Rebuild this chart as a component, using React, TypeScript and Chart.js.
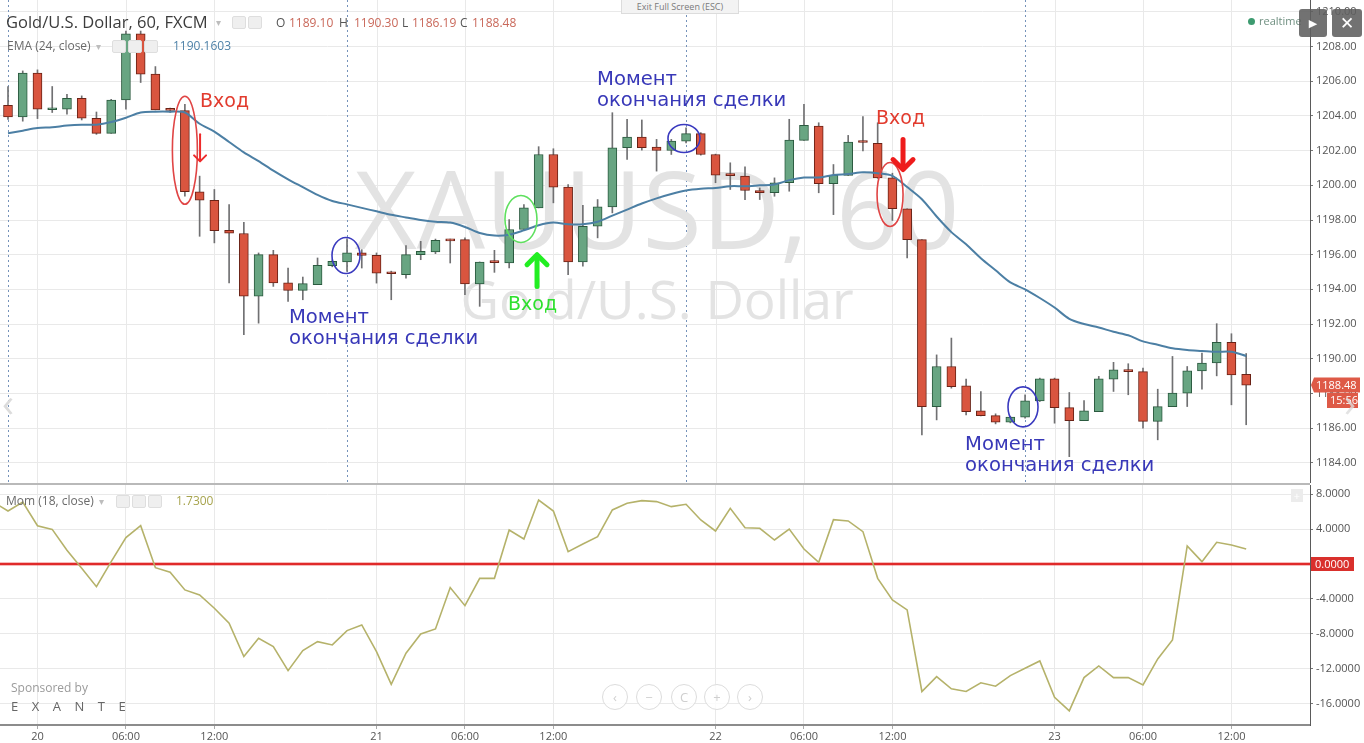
import React, { useEffect, useRef } from 'react';
import { Chart, registerables } from 'chart.js';

Chart.register(...registerables);

// ---------- DATA (hourly candles, index 0 = session start 19th 22:00) ----------
const opens = [
  1204.62, 1203.94, 1206.47, 1204.36, 1204.39, 1205.02, 1203.87, 1203.0, 1204.92, 1208.74,
  1206.41, 1204.38, 1204.31, 1199.63, 1199.14, 1197.41, 1197.22, 1193.6, 1196.0, 1194.37,
  1193.94, 1194.27, 1195.36, 1195.58, 1196.1, 1195.96, 1194.98, 1194.85, 1196.0, 1196.16,
  1196.86, 1196.87, 1194.31, 1195.6, 1195.52, 1197.45, 1198.7, 1201.78, 1199.9, 1195.58,
  1197.64, 1198.76, 1202.17, 1202.78, 1202.21, 1202.01, 1202.55, 1202.98, 1201.78, 1200.62,
  1200.53, 1199.7, 1199.57, 1200.15, 1202.59, 1203.42, 1200.09, 1200.57, 1202.53, 1202.42,
  1200.43, 1198.64, 1196.87, 1187.24, 1189.55, 1188.44, 1186.99, 1186.72, 1186.34, 1186.63,
  1187.57, 1188.84, 1187.18, 1186.43, 1186.95, 1188.82, 1189.36, 1189.25, 1186.38, 1187.24,
  1188.01, 1189.3, 1189.75, 1190.94, 1189.1,
];
const highs = [
  1205.7, 1206.6, 1206.66, 1205.7, 1205.25, 1205.16, 1204.23, 1204.96, 1208.9, 1208.9,
  1206.85, 1204.45, 1204.67, 1200.53, 1199.76, 1198.89, 1197.87, 1196.1, 1196.25, 1195.23,
  1194.71, 1195.81, 1195.7, 1196.91, 1196.29, 1196.1, 1195.05, 1196.52, 1196.77, 1196.9,
  1196.9, 1196.97, 1195.58, 1196.25, 1198.03, 1198.89, 1202.23, 1202.11, 1200.05, 1198.84,
  1199.18, 1204.19, 1203.81, 1203.77, 1202.65, 1202.65, 1203.32, 1203.04, 1201.8, 1201.3,
  1201.07, 1199.85, 1200.43, 1203.81, 1204.67, 1203.61, 1201.2, 1202.88, 1203.96, 1203.61,
  1200.7, 1198.64, 1196.87, 1190.22, 1191.19, 1188.82, 1188.11, 1186.82, 1186.68, 1187.92,
  1188.88, 1188.88, 1188.05, 1187.59, 1188.98, 1189.79, 1189.71, 1189.46, 1188.24, 1190.13,
  1189.55, 1190.33, 1192.02, 1191.44, 1190.3,
];
const lows = [
  1203.8, 1203.7, 1203.85, 1204.2, 1204.1, 1203.77, 1202.94, 1203.0, 1204.39, 1205.93,
  1204.35, 1204.2, 1199.38, 1197.06, 1196.68, 1194.37, 1191.38, 1192.05, 1194.17, 1193.3,
  1193.4, 1194.27, 1195.3, 1195.04, 1195.23, 1194.36, 1193.4, 1194.65, 1195.71, 1196.06,
  1195.52, 1193.69, 1193.02, 1194.98, 1195.23, 1197.45, 1198.7, 1198.99, 1194.85, 1195.33,
  1196.97, 1198.41, 1201.5, 1202.03, 1200.82, 1201.78, 1202.45, 1201.74, 1200.15, 1199.76,
  1199.18, 1199.18, 1199.37, 1199.66, 1202.59, 1199.57, 1198.31, 1200.57, 1201.98, 1200.4,
  1197.97, 1195.81, 1185.6, 1186.47, 1188.3, 1186.76, 1186.7, 1186.24, 1186.3, 1186.57,
  1187.53, 1186.28, 1184.35, 1186.43, 1186.95, 1188.11, 1187.92, 1185.99, 1185.32, 1187.24,
  1187.24, 1188.24, 1189.01, 1187.34, 1186.19,
];
const closes = [
  1203.94, 1206.47, 1204.39, 1204.42, 1205.02, 1203.87, 1203.0, 1204.92, 1208.74, 1206.41,
  1204.35, 1204.32, 1199.63, 1199.14, 1197.39, 1197.24, 1193.6, 1196.0, 1194.37, 1193.94,
  1194.33, 1195.39, 1195.61, 1196.1, 1195.96, 1194.94, 1194.9, 1196.0, 1196.2, 1196.83,
  1196.8, 1194.31, 1195.58, 1195.54, 1197.45, 1198.7, 1201.78, 1199.9, 1195.58, 1197.64,
  1198.76, 1202.17, 1202.78, 1202.17, 1202.01, 1202.55, 1202.98, 1201.78, 1200.59, 1200.56,
  1199.7, 1199.57, 1200.15, 1202.61, 1203.46, 1200.09, 1200.57, 1202.5, 1202.47, 1200.43,
  1198.66, 1196.87, 1187.24, 1189.55, 1188.39, 1186.95, 1186.72, 1186.34, 1186.63, 1187.57,
  1188.84, 1187.18, 1186.43, 1186.99, 1188.84, 1189.36, 1189.25, 1186.38, 1187.24, 1188.01,
  1189.3, 1189.75, 1190.94, 1189.07, 1188.48,
];
const emaValues = [
  1203.0, 1203.15, 1203.3, 1203.35, 1203.45, 1203.5, 1203.5, 1203.65, 1203.9, 1204.2,
  1204.25, 1204.25, 1204.2, 1203.55, 1203.1, 1202.5, 1201.9, 1201.4, 1200.85, 1200.35,
  1199.9, 1199.45, 1199.1, 1198.9, 1198.7, 1198.5, 1198.3, 1198.15, 1198.0, 1197.9,
  1197.85, 1197.6, 1197.25, 1197.1, 1197.15, 1197.4, 1197.7, 1197.85, 1197.75, 1197.75,
  1197.9, 1198.25, 1198.6, 1198.95, 1199.25, 1199.5, 1199.7, 1199.8, 1199.85, 1199.95,
  1199.95, 1200.0, 1200.05, 1200.3, 1200.45, 1200.45, 1200.6, 1200.65, 1200.75, 1200.7,
  1200.55, 1199.9, 1199.2, 1198.2, 1197.3, 1196.6, 1195.8, 1195.1, 1194.4, 1194.0,
  1193.5, 1192.95, 1192.3, 1192.0, 1191.8, 1191.55, 1191.35, 1191.0, 1190.8, 1190.6,
  1190.5, 1190.45, 1190.4, 1190.4, 1190.16,
];
const momStart = -1;
const momValues = [
  7.1, 6.07, 7.1, 4.39, 3.97, 1.57, -0.49, -2.6, 0.27, 3.02, 4.39,
  -0.42, -0.95, -2.97, -3.55, -5.07, -6.79, -10.6, -8.51, -9.46, -12.21,
  -9.92, -8.89, -9.27, -7.63, -6.98, -10.03, -13.77, -10.22, -8.01, -7.44,
  -2.7, -4.77, -1.64, -1.64, 3.9, 2.87, 7.33, 6.07, 1.42, 2.3,
  3.13, 6.19, 6.95, 7.26, 7.15, 6.57, 6.84, 5.04, 3.78, 6.38,
  4.16, 4.09, 2.75, 4.01, 1.72, 0.2, 5.08, 4.93, 3.71, -1.64,
  -4.12, -5.26, -14.6, -12.9, -14.3, -14.6, -13.6, -14.0, -12.78, -11.94,
  -11.1, -15.26, -16.83, -13.01, -11.68, -13.01, -13.01, -13.85, -10.87, -8.7,
  2.07, 0.27, 2.49, 2.18, 1.73,
];
const timeTickIndex = [2, 8, 14, 25, 31, 37, 48, 54, 60, 71, 77, 83];
const timeTickLabels = ['20', '06:00', '12:00', '21', '06:00', '12:00', '22', '06:00', '12:00', '23', '06:00', '12:00'];
const sessionStarts = [0, 23, 46, 69];
const priceTicks = [1184, 1186, 1188, 1190, 1192, 1194, 1196, 1198, 1200, 1202, 1204, 1206, 1208, 1210];
const momTicks = [8, 4, 0, -4, -8, -12, -16];
const lastPrice = 1188.48;
const lastTime = '15:56';

// annotations anchored to data coordinates (candle index, price)
const entryNotes = [
  { text: 'Вход', idx: 13.03, price: 1204.79, color: '#e23b2e' },
  { text: 'Вход', idx: 58.89, price: 1203.81, color: '#e23b2e' },
  { text: 'Вход', idx: 33.92, price: 1193.12, color: '#2ee02e' },
];
const exitNotes = [
  { idx: 19.06, price: 1192.36 },
  { idx: 39.96, price: 1206.06 },
  { idx: 64.93, price: 1185.02 },
];
const rings = [
  { idx: 12.0, price: 1202.02, rx: 12.5, ry: 54, color: '#e04545' },
  { idx: 22.93, price: 1195.95, rx: 14, ry: 18, color: '#3a3abf' },
  { idx: 34.8, price: 1198.06, rx: 16, ry: 23.5, color: '#5fe05f' },
  { idx: 45.86, price: 1202.7, rx: 16, ry: 14, color: '#3a3abf' },
  { idx: 59.84, price: 1199.47, rx: 13, ry: 32, color: '#e04545' },
  { idx: 68.86, price: 1187.22, rx: 15, ry: 20, color: '#3a3abf' },
];
const arrows = [
  { idx: 13.03, from: 1202.94, to: 1201.38, color: '#ee2a2a', w: 2, head: 6 },
  { idx: 60.72, from: 1202.64, to: 1200.91, color: '#ee1c1c', w: 5, head: 10 },
  { idx: 35.89, from: 1194.16, to: 1196.0, color: '#22ee22', w: 5, head: 10 },
];

// ---------- view ranges ----------
const X_MIN = -0.543;
const X_MAX = 88.33;
const PRICE_MIN = 1182.83;
const PRICE_MAX = 1210.69;
const MOM_MIN = -18.44;
const MOM_MAX = 9.05;

const UI_FONT = '"Open Sans", "DejaVu Sans", sans-serif';
const NOTE_FONT = '"DejaVu Sans", Verdana, sans-serif';
const GRID = '#e9e9e9';

function drawArrow(ctx: CanvasRenderingContext2D, x: number, y0: number, y1: number, color: string, w: number, head: number) {
  const dir = Math.sign(y1 - y0);
  ctx.strokeStyle = color;
  ctx.lineWidth = w;
  ctx.lineCap = 'round';
  ctx.lineJoin = 'round';
  ctx.beginPath();
  ctx.moveTo(x, y0);
  ctx.lineTo(x, y1 - dir * w * 0.5);
  ctx.stroke();
  ctx.beginPath();
  ctx.moveTo(x - head, y1 - dir * head);
  ctx.lineTo(x, y1);
  ctx.lineTo(x + head, y1 - dir * head);
  ctx.stroke();
}

const topPlugin = {
  id: 'topDeco',
  beforeDatasetsDraw(chart: any) {
    const { ctx, chartArea: a, scales } = chart;
    const xs = scales.x;
    ctx.save();
    ctx.beginPath();
    ctx.rect(a.left, a.top, a.right - a.left, a.bottom - a.top);
    ctx.clip();
    ctx.lineWidth = 1;
    ctx.strokeStyle = GRID;
    for (const t of timeTickIndex) {
      const x = Math.round(xs.getPixelForValue(t)) + 0.5;
      ctx.beginPath();
      ctx.moveTo(x, a.top);
      ctx.lineTo(x, a.bottom);
      ctx.stroke();
    }
    ctx.setLineDash([2, 3]);
    ctx.strokeStyle = '#7592ba';
    for (const s of sessionStarts) {
      const x = Math.round(xs.getPixelForValue(s)) + 0.5;
      ctx.beginPath();
      ctx.moveTo(x, a.top);
      ctx.lineTo(x, a.bottom);
      ctx.stroke();
    }
    ctx.setLineDash([]);
    const cx = (a.left + a.right) / 2 + 2;
    ctx.fillStyle = '#e3e3e3';
    ctx.textAlign = 'center';
    ctx.textBaseline = 'alphabetic';
    ctx.font = `108px ${UI_FONT}`;
    ctx.fillText('XAUUSD, 60', cx, a.top + 249);
    ctx.font = `53px ${UI_FONT}`;
    ctx.fillText('Gold/U.S. Dollar', cx, a.top + 319);
    ctx.restore();
  },
  afterDatasetsDraw(chart: any) {
    const { ctx, scales } = chart;
    const xs = scales.x;
    const ys = scales.y;
    ctx.save();
    for (const r of rings) {
      ctx.beginPath();
      ctx.ellipse(xs.getPixelForValue(r.idx), ys.getPixelForValue(r.price), r.rx, r.ry, 0, 0, Math.PI * 2);
      ctx.strokeStyle = r.color;
      ctx.lineWidth = 1.6;
      ctx.stroke();
    }
    for (const ar of arrows) {
      drawArrow(ctx, xs.getPixelForValue(ar.idx), ys.getPixelForValue(ar.from), ys.getPixelForValue(ar.to), ar.color, ar.w, ar.head);
    }
    ctx.textAlign = 'left';
    ctx.textBaseline = 'middle';
    ctx.font = `19px ${NOTE_FONT}`;
    for (const n of entryNotes) {
      ctx.fillStyle = n.color;
      ctx.fillText(n.text, xs.getPixelForValue(n.idx), ys.getPixelForValue(n.price));
    }
    ctx.font = `19.6px ${NOTE_FONT}`;
    ctx.fillStyle = '#3838b8';
    for (const n of exitNotes) {
      const x = xs.getPixelForValue(n.idx);
      const y = ys.getPixelForValue(n.price);
      ctx.fillText('Момент', x, y);
      ctx.fillText('окончания сделки', x, y + 21);
    }
    ctx.restore();
  },
  afterDraw(chart: any) {
    const { ctx, scales } = chart;
    const ys = scales.y;
    const y = Math.round(ys.getPixelForValue(lastPrice));
    const left = ys.left;
    ctx.save();
    ctx.fillStyle = '#de5a47';
    ctx.beginPath();
    ctx.moveTo(left + 1, y);
    ctx.lineTo(left + 4, y - 7.5);
    ctx.lineTo(left + 50, y - 7.5);
    ctx.lineTo(left + 50, y + 7.5);
    ctx.lineTo(left + 4, y + 7.5);
    ctx.closePath();
    ctx.fill();
    ctx.fillRect(left + 17, y + 8, 31, 15);
    ctx.fillStyle = '#ffffff';
    ctx.font = `11px ${UI_FONT}`;
    ctx.textBaseline = 'middle';
    ctx.textAlign = 'left';
    ctx.fillText(lastPrice.toFixed(2), left + 6, y + 0.5);
    ctx.fillText(lastTime, left + 20, y + 15.5);
    ctx.restore();
  },
};

const bottomPlugin = {
  id: 'bottomDeco',
  beforeDatasetsDraw(chart: any) {
    const { ctx, chartArea: a, scales } = chart;
    const y0 = scales.y.getPixelForValue(0);
    ctx.save();
    ctx.strokeStyle = 'rgba(230,60,60,0.35)';
    ctx.lineWidth = 4;
    ctx.beginPath();
    ctx.moveTo(a.left, y0);
    ctx.lineTo(a.right, y0);
    ctx.stroke();
    ctx.strokeStyle = '#e02a2a';
    ctx.lineWidth = 2;
    ctx.beginPath();
    ctx.moveTo(a.left, y0);
    ctx.lineTo(a.right, y0);
    ctx.stroke();
    ctx.restore();
  },
  afterDraw(chart: any) {
    const { ctx, scales } = chart;
    const ys = scales.y;
    const y = Math.round(ys.getPixelForValue(0));
    ctx.save();
    ctx.fillStyle = '#d9302c';
    ctx.fillRect(ys.left + 1, y - 7, 43, 14);
    ctx.fillStyle = '#ffffff';
    ctx.font = `11px ${UI_FONT}`;
    ctx.textBaseline = 'middle';
    ctx.textAlign = 'left';
    ctx.fillText((0).toFixed(4), ys.left + 5, y + 0.5);
    ctx.restore();
  },
};

const tickFont = { family: UI_FONT, size: 11 };

export default function App() {
  const topRef = useRef<HTMLCanvasElement | null>(null);
  const botRef = useRef<HTMLCanvasElement | null>(null);

  useEffect(() => {
    if (!topRef.current || !botRef.current) return;
    const upColor = '#68a582';
    const downColor = '#d9553f';
    const bodyFill = opens.map((o, i) => (closes[i] >= o ? upColor : downColor));
    const bodyEdge = opens.map((o, i) => (closes[i] >= o ? '#2b5a3f' : '#6a2216'));

    const top = new Chart(topRef.current, {
      type: 'bar',
      data: {
        datasets: [
          {
            type: 'line',
            data: emaValues.map((v, i) => ({ x: i, y: v })),
            borderColor: '#4c7fa4',
            borderWidth: 2,
            pointRadius: 0,
            tension: 0.3,
            order: 0,
          } as any,
          {
            type: 'bar',
            data: opens.map((o, i) => ({ x: i, y: [o, closes[i]] })),
            backgroundColor: bodyFill,
            borderColor: bodyEdge,
            borderWidth: 1,
            borderSkipped: false,
            barThickness: 9,
            minBarLength: 2,
            grouped: false,
            order: 1,
          } as any,
          {
            type: 'bar',
            data: lows.map((l, i) => ({ x: i, y: [l, highs[i]] })),
            backgroundColor: '#707072',
            barThickness: 1,
            grouped: false,
            order: 2,
          } as any,
        ],
      },
      options: {
        animation: false,
        responsive: false,
        maintainAspectRatio: false,
        events: [],
        layout: { padding: 0 },
        plugins: { legend: { display: false }, tooltip: { enabled: false } },
        scales: {
          x: { type: 'linear', min: X_MIN, max: X_MAX, display: false, offset: false, grid: { offset: false } },
          y: {
            type: 'linear',
            position: 'right',
            min: PRICE_MIN,
            max: PRICE_MAX,
            beginAtZero: false,
            afterBuildTicks: (s: any) => { s.ticks = priceTicks.map((v) => ({ value: v })); },
            afterFit: (s: any) => { s.width = 54; s.paddingTop = 0; s.paddingBottom = 0; },
            ticks: { callback: (v: any) => Number(v).toFixed(2), font: tickFont, color: '#555', padding: 3 },
            grid: { color: GRID, tickLength: 3, tickColor: '#777' },
            border: { display: true, color: '#5a5a5a', width: 1 },
          },
        },
      } as any,
      plugins: [topPlugin],
    });

    const bottom = new Chart(botRef.current, {
      type: 'line',
      data: {
        datasets: [
          {
            data: momValues.map((v, k) => ({ x: k + momStart, y: v })),
            borderColor: '#b5b26a',
            borderWidth: 1.6,
            pointRadius: 0,
            tension: 0,
          },
        ],
      },
      options: {
        animation: false,
        responsive: false,
        maintainAspectRatio: false,
        events: [],
        layout: { padding: 0 },
        plugins: { legend: { display: false }, tooltip: { enabled: false } },
        scales: {
          x: {
            type: 'linear',
            min: X_MIN,
            max: X_MAX,
            offset: false,
            afterBuildTicks: (s: any) => { s.ticks = timeTickIndex.map((v) => ({ value: v })); },
            afterFit: (s: any) => { s.height = 18; s.paddingLeft = 0; s.paddingRight = 0; },
            ticks: {
              autoSkip: false,
              maxRotation: 0,
              padding: 1,
              font: tickFont,
              color: '#555',
              callback: (v: any) => {
                const k = timeTickIndex.indexOf(Number(v));
                return k >= 0 ? timeTickLabels[k] : '';
              },
            },
            grid: { color: GRID, tickLength: 4, tickColor: '#aaa' },
            border: { display: true, color: '#8c8c8c', width: 2 },
          },
          y: {
            type: 'linear',
            position: 'right',
            min: MOM_MIN,
            max: MOM_MAX,
            afterBuildTicks: (s: any) => { s.ticks = momTicks.map((v) => ({ value: v })); },
            afterFit: (s: any) => { s.width = 54; s.paddingTop = 0; s.paddingBottom = 0; },
            ticks: { callback: (v: any) => Number(v).toFixed(4), font: tickFont, color: '#555', padding: 3 },
            grid: { color: GRID, tickLength: 3, tickColor: '#777' },
            border: { display: true, color: '#5a5a5a', width: 1 },
          },
        },
      } as any,
      plugins: [bottomPlugin],
    });

    return () => {
      top.destroy();
      bottom.destroy();
    };
  }, []);

  const abs = (s: React.CSSProperties): React.CSSProperties => ({ position: 'absolute', whiteSpace: 'nowrap', fontFamily: UI_FONT, ...s });
  const iconBox = (left: number, topY: number): React.CSSProperties =>
    abs({ left, top: topY, width: 12, height: 11, background: '#efefef', border: '1px solid #dedede', borderRadius: 2 });
  const navBtn = (cx: number, glyph: string, k: number) => (
    <div
      key={k}
      style={abs({
        left: cx - 13, top: 684, width: 24, height: 24, borderRadius: 13, border: '1px solid #dcdcdc', background: 'rgba(255,255,255,0.8)',
        color: '#cfcfcf', fontSize: 13, lineHeight: '24px', textAlign: 'center',
      })}
    >
      {glyph}
    </div>
  );
  const ohlc = { fontSize: 12, lineHeight: '16px', top: 15 };

  return (
    <div style={{ position: 'absolute', left: 0, top: 0, width: 1364, height: 743, overflow: 'hidden', background: '#ffffff' }}>
      <canvas ref={topRef} width={1364} height={483} style={{ position: 'absolute', left: 0, top: 0, width: 1364, height: 483 }} />
      <div style={abs({ left: 0, top: 483, width: 1310, height: 2, background: '#b9b9b9' })} />
      <canvas ref={botRef} width={1364} height={258} style={{ position: 'absolute', left: 0, top: 485, width: 1364, height: 258 }} />

      {/* header */}
      <div style={abs({ left: 6, top: 11, fontSize: 16.5, lineHeight: '22px', color: '#3c3c3c' })}>Gold/U.S. Dollar, 60, FXCM</div>
      <div style={abs({ left: 216, top: 14, fontSize: 10, lineHeight: '16px', color: '#bdbdbd' })}>▾</div>
      <div style={iconBox(232, 16)} />
      <div style={iconBox(248, 16)} />
      <div style={abs({ ...ohlc, left: 276, color: '#555' })}>O</div>
      <div style={abs({ ...ohlc, left: 289, color: '#c9685a' })}>1189.10</div>
      <div style={abs({ ...ohlc, left: 339, color: '#555' })}>H</div>
      <div style={abs({ ...ohlc, left: 354, color: '#c9685a' })}>1190.30</div>
      <div style={abs({ ...ohlc, left: 402, color: '#555' })}>L</div>
      <div style={abs({ ...ohlc, left: 412, color: '#c9685a' })}>1186.19</div>
      <div style={abs({ ...ohlc, left: 460, color: '#555' })}>C</div>
      <div style={abs({ ...ohlc, left: 472, color: '#c9685a' })}>1188.48</div>

      <div style={abs({ left: 7, top: 38, fontSize: 12, lineHeight: '16px', color: '#6a6a6a' })}>EMA (24, close)</div>
      <div style={abs({ left: 96, top: 38, fontSize: 10, lineHeight: '16px', color: '#bdbdbd' })}>▾</div>
      <div style={iconBox(112, 40)} />
      <div style={iconBox(128, 40)} />
      <div style={iconBox(144, 40)} />
      <div style={abs({ left: 173, top: 38, fontSize: 12, lineHeight: '16px', color: '#4f82a8' })}>1190.1603</div>

      <div style={abs({ left: 6, top: 493, fontSize: 12, lineHeight: '16px', color: '#6a6a6a' })}>Mom (18, close)</div>
      <div style={abs({ left: 99, top: 493, fontSize: 10, lineHeight: '16px', color: '#bdbdbd' })}>▾</div>
      <div style={iconBox(116, 495)} />
      <div style={iconBox(132, 495)} />
      <div style={iconBox(148, 495)} />
      <div style={abs({ left: 176, top: 493, fontSize: 12, lineHeight: '16px', color: '#a7a44e' })}>1.7300</div>

      {/* top center tab */}
      <div style={abs({ left: 621, top: 0, width: 116, height: 13, background: '#f3f3f3', border: '1px solid #dcdcdc', borderTop: 'none', fontSize: 9, lineHeight: '13px', color: '#7a7a7a', textAlign: 'center' })}>
        Exit Full Screen (ESC)
      </div>

      {/* realtime + buttons */}
      <div style={abs({ left: 1248, top: 18, width: 7, height: 7, borderRadius: 4, background: '#3d9b70' })} />
      <div style={abs({ left: 1259, top: 13, fontSize: 11, lineHeight: '16px', color: '#6f8f80' })}>realtime</div>
      <div style={abs({ left: 1299, top: 9, width: 28, height: 28, borderRadius: 3, background: 'rgba(95,95,95,0.88)', color: '#fff', fontSize: 11, lineHeight: '28px', textAlign: 'center' })}>▶</div>
      <div style={abs({ left: 1332, top: 9, width: 30, height: 28, borderRadius: 3, background: 'rgba(95,95,95,0.88)', color: '#fff', fontSize: 17, lineHeight: '28px', textAlign: 'center', fontWeight: 700 })}>✕</div>

      {/* side navigation arrows */}
      <div style={abs({ left: 2, top: 380, fontSize: 40, lineHeight: '44px', color: '#dcdcdc' })}>‹</div>
      <div style={abs({ left: 1344, top: 380, fontSize: 40, lineHeight: '44px', color: 'rgba(220,220,220,0.8)' })}>›</div>

      {/* momentum panel small box */}
      <div style={abs({ left: 1291, top: 489, width: 12, height: 13, background: '#ececec', color: '#fff', fontSize: 11, lineHeight: '13px', textAlign: 'center' })}>+</div>

      {/* sponsor */}
      <div style={abs({ left: 11, top: 680, fontSize: 12, lineHeight: '16px', color: '#9b9b9b' })}>Sponsored by</div>
      <div style={abs({ left: 11, top: 697, fontSize: 13, lineHeight: '18px', color: '#666', letterSpacing: '13.5px' })}>EXANTE</div>

      {/* bottom navigation */}
      {[['‹', 615], ['−', 649], ['C', 684], ['+', 717], ['›', 750]].map(([g, cx], k) => navBtn(cx as number, g as string, k))}
    </div>
  );
}
